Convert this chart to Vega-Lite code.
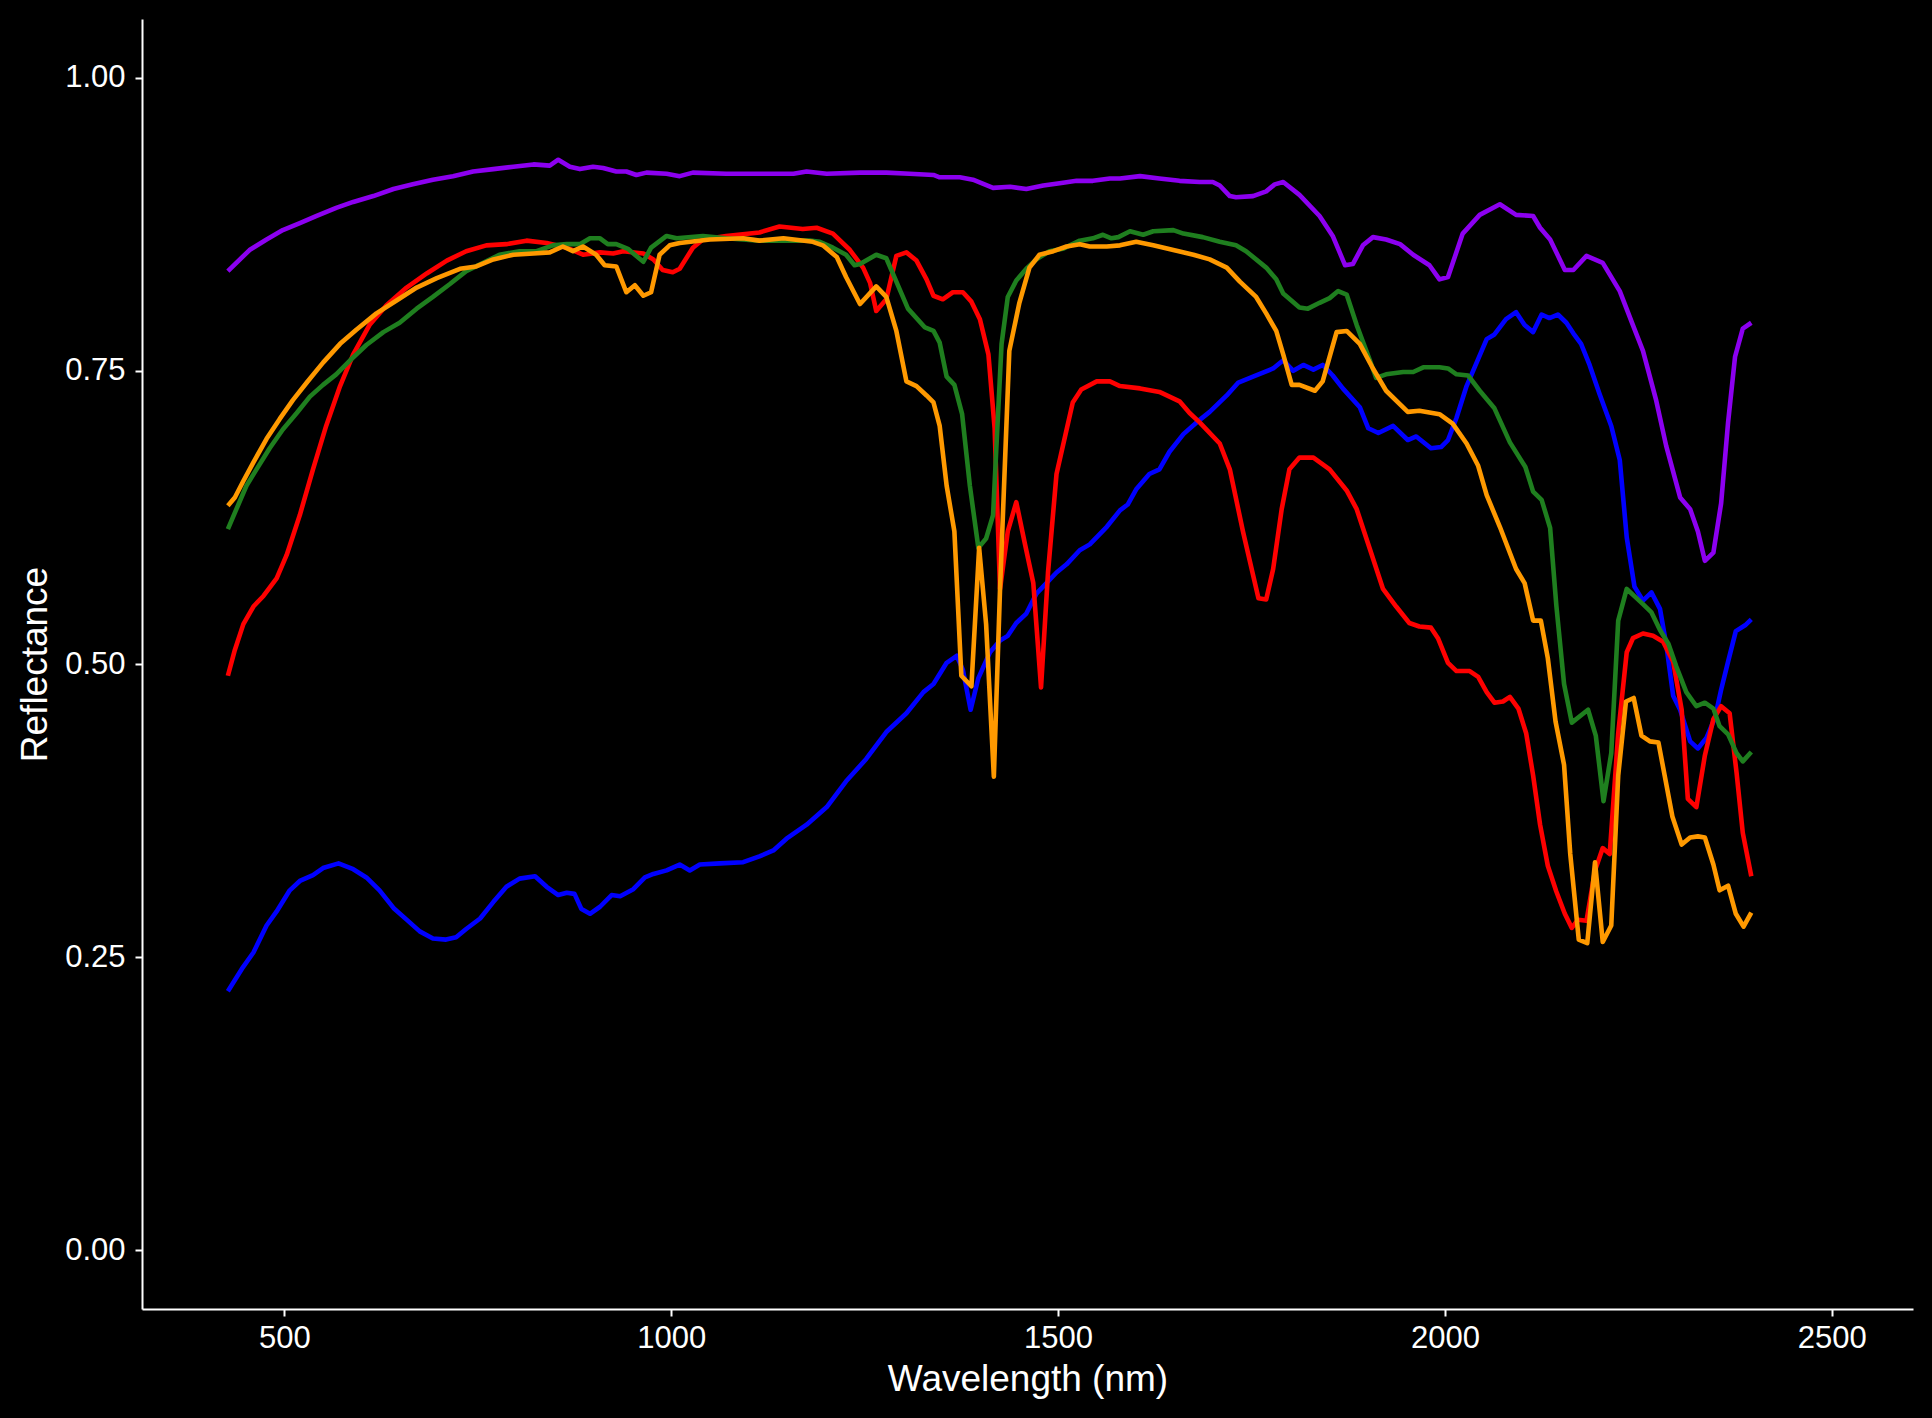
{
  "$schema": "https://vega.github.io/schema/vega-lite/v6.json",
  "width": 1771,
  "height": 1290,
  "autosize": {"type": "none"},
  "padding": {"left": 142, "top": 19, "right": 19, "bottom": 109},
  "background": "#000000",
  "config": {
    "view": {"stroke": null},
    "font": "Liberation Sans",
    "axis": {
      "grid": false,
      "domainColor": "#FFFFFF",
      "domainWidth": 2,
      "tickColor": "#FFFFFF",
      "tickWidth": 2,
      "tickSize": 7,
      "labelColor": "#FFFFFF",
      "labelFont": "Liberation Sans",
      "labelFontSize": 31,
      "titleColor": "#FFFFFF",
      "titleFont": "Liberation Sans",
      "titleFontSize": 37,
      "titleFontWeight": "normal"
    }
  },
  "data": {
    "values": [
      {"sample":"purple","nm":427,"reflectance":0.835},{"sample":"purple","nm":455,"reflectance":0.853},{"sample":"purple","nm":477,"reflectance":0.862},{"sample":"purple","nm":498,"reflectance":0.870},{"sample":"purple","nm":520,"reflectance":0.876},{"sample":"purple","nm":541,"reflectance":0.882},{"sample":"purple","nm":567,"reflectance":0.889},{"sample":"purple","nm":589,"reflectance":0.894},{"sample":"purple","nm":615,"reflectance":0.899},{"sample":"purple","nm":641,"reflectance":0.905},{"sample":"purple","nm":666,"reflectance":0.909},{"sample":"purple","nm":692,"reflectance":0.913},{"sample":"purple","nm":718,"reflectance":0.916},{"sample":"purple","nm":744,"reflectance":0.920},{"sample":"purple","nm":770,"reflectance":0.922},{"sample":"purple","nm":796,"reflectance":0.924},{"sample":"purple","nm":822,"reflectance":0.926},{"sample":"purple","nm":843,"reflectance":0.925},{"sample":"purple","nm":854,"reflectance":0.930},{"sample":"purple","nm":869,"reflectance":0.924},{"sample":"purple","nm":882,"reflectance":0.922},{"sample":"purple","nm":899,"reflectance":0.924},{"sample":"purple","nm":912,"reflectance":0.923},{"sample":"purple","nm":929,"reflectance":0.920},{"sample":"purple","nm":942,"reflectance":0.920},{"sample":"purple","nm":955,"reflectance":0.917},{"sample":"purple","nm":968,"reflectance":0.919},{"sample":"purple","nm":994,"reflectance":0.918},{"sample":"purple","nm":1011,"reflectance":0.916},{"sample":"purple","nm":1028,"reflectance":0.919},{"sample":"purple","nm":1071,"reflectance":0.918},{"sample":"purple","nm":1114,"reflectance":0.918},{"sample":"purple","nm":1158,"reflectance":0.918},{"sample":"purple","nm":1175,"reflectance":0.920},{"sample":"purple","nm":1201,"reflectance":0.918},{"sample":"purple","nm":1244,"reflectance":0.919},{"sample":"purple","nm":1278,"reflectance":0.919},{"sample":"purple","nm":1308,"reflectance":0.918},{"sample":"purple","nm":1339,"reflectance":0.917},{"sample":"purple","nm":1347,"reflectance":0.915},{"sample":"purple","nm":1373,"reflectance":0.915},{"sample":"purple","nm":1390,"reflectance":0.913},{"sample":"purple","nm":1416,"reflectance":0.906},{"sample":"purple","nm":1438,"reflectance":0.907},{"sample":"purple","nm":1459,"reflectance":0.905},{"sample":"purple","nm":1481,"reflectance":0.908},{"sample":"purple","nm":1502,"reflectance":0.910},{"sample":"purple","nm":1524,"reflectance":0.912},{"sample":"purple","nm":1545,"reflectance":0.912},{"sample":"purple","nm":1567,"reflectance":0.914},{"sample":"purple","nm":1580,"reflectance":0.914},{"sample":"purple","nm":1606,"reflectance":0.916},{"sample":"purple","nm":1631,"reflectance":0.914},{"sample":"purple","nm":1657,"reflectance":0.912},{"sample":"purple","nm":1683,"reflectance":0.911},{"sample":"purple","nm":1700,"reflectance":0.911},{"sample":"purple","nm":1709,"reflectance":0.908},{"sample":"purple","nm":1722,"reflectance":0.899},{"sample":"purple","nm":1730,"reflectance":0.898},{"sample":"purple","nm":1752,"reflectance":0.899},{"sample":"purple","nm":1769,"reflectance":0.903},{"sample":"purple","nm":1780,"reflectance":0.909},{"sample":"purple","nm":1791,"reflectance":0.911},{"sample":"purple","nm":1812,"reflectance":0.900},{"sample":"purple","nm":1838,"reflectance":0.882},{"sample":"purple","nm":1855,"reflectance":0.865},{"sample":"purple","nm":1871,"reflectance":0.840},{"sample":"purple","nm":1881,"reflectance":0.841},{"sample":"purple","nm":1894,"reflectance":0.857},{"sample":"purple","nm":1907,"reflectance":0.864},{"sample":"purple","nm":1924,"reflectance":0.862},{"sample":"purple","nm":1942,"reflectance":0.858},{"sample":"purple","nm":1959,"reflectance":0.849},{"sample":"purple","nm":1980,"reflectance":0.840},{"sample":"purple","nm":1993,"reflectance":0.828},{"sample":"purple","nm":2004,"reflectance":0.830},{"sample":"purple","nm":2023,"reflectance":0.867},{"sample":"purple","nm":2045,"reflectance":0.883},{"sample":"purple","nm":2071,"reflectance":0.892},{"sample":"purple","nm":2092,"reflectance":0.883},{"sample":"purple","nm":2114,"reflectance":0.882},{"sample":"purple","nm":2123,"reflectance":0.872},{"sample":"purple","nm":2136,"reflectance":0.862},{"sample":"purple","nm":2155,"reflectance":0.836},{"sample":"purple","nm":2166,"reflectance":0.836},{"sample":"purple","nm":2183,"reflectance":0.848},{"sample":"purple","nm":2204,"reflectance":0.842},{"sample":"purple","nm":2226,"reflectance":0.818},{"sample":"purple","nm":2243,"reflectance":0.789},{"sample":"purple","nm":2256,"reflectance":0.767},{"sample":"purple","nm":2273,"reflectance":0.725},{"sample":"purple","nm":2286,"reflectance":0.686},{"sample":"purple","nm":2304,"reflectance":0.642},{"sample":"purple","nm":2317,"reflectance":0.632},{"sample":"purple","nm":2327,"reflectance":0.613},{"sample":"purple","nm":2336,"reflectance":0.588},{"sample":"purple","nm":2347,"reflectance":0.595},{"sample":"purple","nm":2357,"reflectance":0.637},{"sample":"purple","nm":2366,"reflectance":0.706},{"sample":"purple","nm":2375,"reflectance":0.762},{"sample":"purple","nm":2385,"reflectance":0.786},{"sample":"purple","nm":2396,"reflectance":0.791},

      {"sample":"blue","nm":427,"reflectance":0.221},{"sample":"blue","nm":445,"reflectance":0.240},{"sample":"blue","nm":460,"reflectance":0.254},{"sample":"blue","nm":477,"reflectance":0.277},{"sample":"blue","nm":490,"reflectance":0.289},{"sample":"blue","nm":507,"reflectance":0.307},{"sample":"blue","nm":520,"reflectance":0.315},{"sample":"blue","nm":537,"reflectance":0.320},{"sample":"blue","nm":550,"reflectance":0.326},{"sample":"blue","nm":570,"reflectance":0.330},{"sample":"blue","nm":589,"reflectance":0.325},{"sample":"blue","nm":606,"reflectance":0.318},{"sample":"blue","nm":623,"reflectance":0.307},{"sample":"blue","nm":641,"reflectance":0.292},{"sample":"blue","nm":658,"reflectance":0.282},{"sample":"blue","nm":675,"reflectance":0.272},{"sample":"blue","nm":692,"reflectance":0.266},{"sample":"blue","nm":709,"reflectance":0.265},{"sample":"blue","nm":722,"reflectance":0.267},{"sample":"blue","nm":735,"reflectance":0.274},{"sample":"blue","nm":753,"reflectance":0.283},{"sample":"blue","nm":770,"reflectance":0.297},{"sample":"blue","nm":787,"reflectance":0.310},{"sample":"blue","nm":804,"reflectance":0.317},{"sample":"blue","nm":824,"reflectance":0.319},{"sample":"blue","nm":839,"reflectance":0.310},{"sample":"blue","nm":854,"reflectance":0.303},{"sample":"blue","nm":865,"reflectance":0.305},{"sample":"blue","nm":875,"reflectance":0.304},{"sample":"blue","nm":884,"reflectance":0.291},{"sample":"blue","nm":895,"reflectance":0.287},{"sample":"blue","nm":908,"reflectance":0.293},{"sample":"blue","nm":923,"reflectance":0.303},{"sample":"blue","nm":934,"reflectance":0.302},{"sample":"blue","nm":951,"reflectance":0.308},{"sample":"blue","nm":966,"reflectance":0.318},{"sample":"blue","nm":977,"reflectance":0.321},{"sample":"blue","nm":994,"reflectance":0.324},{"sample":"blue","nm":1011,"reflectance":0.329},{"sample":"blue","nm":1024,"reflectance":0.324},{"sample":"blue","nm":1037,"reflectance":0.329},{"sample":"blue","nm":1063,"reflectance":0.330},{"sample":"blue","nm":1093,"reflectance":0.331},{"sample":"blue","nm":1114,"reflectance":0.336},{"sample":"blue","nm":1132,"reflectance":0.341},{"sample":"blue","nm":1149,"reflectance":0.351},{"sample":"blue","nm":1175,"reflectance":0.363},{"sample":"blue","nm":1201,"reflectance":0.378},{"sample":"blue","nm":1226,"reflectance":0.400},{"sample":"blue","nm":1252,"reflectance":0.419},{"sample":"blue","nm":1278,"reflectance":0.442},{"sample":"blue","nm":1304,"reflectance":0.458},{"sample":"blue","nm":1326,"reflectance":0.476},{"sample":"blue","nm":1339,"reflectance":0.483},{"sample":"blue","nm":1356,"reflectance":0.501},{"sample":"blue","nm":1369,"reflectance":0.507},{"sample":"blue","nm":1377,"reflectance":0.495},{"sample":"blue","nm":1387,"reflectance":0.461},{"sample":"blue","nm":1397,"reflectance":0.488},{"sample":"blue","nm":1412,"reflectance":0.510},{"sample":"blue","nm":1425,"reflectance":0.520},{"sample":"blue","nm":1435,"reflectance":0.524},{"sample":"blue","nm":1446,"reflectance":0.535},{"sample":"blue","nm":1459,"reflectance":0.543},{"sample":"blue","nm":1472,"reflectance":0.560},{"sample":"blue","nm":1485,"reflectance":0.569},{"sample":"blue","nm":1498,"reflectance":0.578},{"sample":"blue","nm":1511,"reflectance":0.585},{"sample":"blue","nm":1528,"reflectance":0.597},{"sample":"blue","nm":1541,"reflectance":0.602},{"sample":"blue","nm":1563,"reflectance":0.617},{"sample":"blue","nm":1580,"reflectance":0.631},{"sample":"blue","nm":1590,"reflectance":0.636},{"sample":"blue","nm":1601,"reflectance":0.649},{"sample":"blue","nm":1618,"reflectance":0.662},{"sample":"blue","nm":1631,"reflectance":0.666},{"sample":"blue","nm":1644,"reflectance":0.681},{"sample":"blue","nm":1662,"reflectance":0.696},{"sample":"blue","nm":1679,"reflectance":0.706},{"sample":"blue","nm":1696,"reflectance":0.715},{"sample":"blue","nm":1718,"reflectance":0.729},{"sample":"blue","nm":1733,"reflectance":0.740},{"sample":"blue","nm":1752,"reflectance":0.745},{"sample":"blue","nm":1778,"reflectance":0.752},{"sample":"blue","nm":1791,"reflectance":0.759},{"sample":"blue","nm":1804,"reflectance":0.750},{"sample":"blue","nm":1817,"reflectance":0.755},{"sample":"blue","nm":1830,"reflectance":0.751},{"sample":"blue","nm":1842,"reflectance":0.755},{"sample":"blue","nm":1855,"reflectance":0.746},{"sample":"blue","nm":1868,"reflectance":0.735},{"sample":"blue","nm":1890,"reflectance":0.719},{"sample":"blue","nm":1901,"reflectance":0.701},{"sample":"blue","nm":1914,"reflectance":0.697},{"sample":"blue","nm":1933,"reflectance":0.703},{"sample":"blue","nm":1952,"reflectance":0.691},{"sample":"blue","nm":1963,"reflectance":0.694},{"sample":"blue","nm":1982,"reflectance":0.684},{"sample":"blue","nm":1995,"reflectance":0.685},{"sample":"blue","nm":2004,"reflectance":0.691},{"sample":"blue","nm":2015,"reflectance":0.710},{"sample":"blue","nm":2028,"reflectance":0.737},{"sample":"blue","nm":2041,"reflectance":0.757},{"sample":"blue","nm":2054,"reflectance":0.777},{"sample":"blue","nm":2064,"reflectance":0.781},{"sample":"blue","nm":2079,"reflectance":0.794},{"sample":"blue","nm":2092,"reflectance":0.800},{"sample":"blue","nm":2103,"reflectance":0.789},{"sample":"blue","nm":2114,"reflectance":0.783},{"sample":"blue","nm":2125,"reflectance":0.798},{"sample":"blue","nm":2135,"reflectance":0.795},{"sample":"blue","nm":2146,"reflectance":0.798},{"sample":"blue","nm":2157,"reflectance":0.791},{"sample":"blue","nm":2166,"reflectance":0.782},{"sample":"blue","nm":2176,"reflectance":0.773},{"sample":"blue","nm":2187,"reflectance":0.755},{"sample":"blue","nm":2200,"reflectance":0.730},{"sample":"blue","nm":2215,"reflectance":0.703},{"sample":"blue","nm":2226,"reflectance":0.674},{"sample":"blue","nm":2235,"reflectance":0.608},{"sample":"blue","nm":2245,"reflectance":0.566},{"sample":"blue","nm":2256,"reflectance":0.554},{"sample":"blue","nm":2267,"reflectance":0.561},{"sample":"blue","nm":2278,"reflectance":0.547},{"sample":"blue","nm":2286,"reflectance":0.517},{"sample":"blue","nm":2295,"reflectance":0.473},{"sample":"blue","nm":2304,"reflectance":0.461},{"sample":"blue","nm":2317,"reflectance":0.434},{"sample":"blue","nm":2327,"reflectance":0.428},{"sample":"blue","nm":2338,"reflectance":0.437},{"sample":"blue","nm":2349,"reflectance":0.454},{"sample":"blue","nm":2357,"reflectance":0.478},{"sample":"blue","nm":2366,"reflectance":0.502},{"sample":"blue","nm":2376,"reflectance":0.528},{"sample":"blue","nm":2388,"reflectance":0.533},{"sample":"blue","nm":2396,"reflectance":0.538},

      {"sample":"red","nm":427,"reflectance":0.490},{"sample":"red","nm":436,"reflectance":0.512},{"sample":"red","nm":447,"reflectance":0.534},{"sample":"red","nm":460,"reflectance":0.549},{"sample":"red","nm":473,"reflectance":0.558},{"sample":"red","nm":490,"reflectance":0.573},{"sample":"red","nm":503,"reflectance":0.593},{"sample":"red","nm":520,"reflectance":0.627},{"sample":"red","nm":537,"reflectance":0.666},{"sample":"red","nm":554,"reflectance":0.703},{"sample":"red","nm":572,"reflectance":0.737},{"sample":"red","nm":589,"reflectance":0.764},{"sample":"red","nm":610,"reflectance":0.789},{"sample":"red","nm":632,"reflectance":0.806},{"sample":"red","nm":658,"reflectance":0.821},{"sample":"red","nm":684,"reflectance":0.833},{"sample":"red","nm":710,"reflectance":0.844},{"sample":"red","nm":735,"reflectance":0.852},{"sample":"red","nm":761,"reflectance":0.857},{"sample":"red","nm":787,"reflectance":0.858},{"sample":"red","nm":813,"reflectance":0.861},{"sample":"red","nm":839,"reflectance":0.859},{"sample":"red","nm":865,"reflectance":0.855},{"sample":"red","nm":886,"reflectance":0.849},{"sample":"red","nm":908,"reflectance":0.851},{"sample":"red","nm":925,"reflectance":0.850},{"sample":"red","nm":938,"reflectance":0.852},{"sample":"red","nm":964,"reflectance":0.850},{"sample":"red","nm":977,"reflectance":0.845},{"sample":"red","nm":989,"reflectance":0.836},{"sample":"red","nm":1002,"reflectance":0.834},{"sample":"red","nm":1011,"reflectance":0.837},{"sample":"red","nm":1028,"reflectance":0.855},{"sample":"red","nm":1041,"reflectance":0.862},{"sample":"red","nm":1071,"reflectance":0.865},{"sample":"red","nm":1114,"reflectance":0.868},{"sample":"red","nm":1140,"reflectance":0.873},{"sample":"red","nm":1170,"reflectance":0.871},{"sample":"red","nm":1188,"reflectance":0.872},{"sample":"red","nm":1209,"reflectance":0.867},{"sample":"red","nm":1231,"reflectance":0.853},{"sample":"red","nm":1248,"reflectance":0.838},{"sample":"red","nm":1257,"reflectance":0.825},{"sample":"red","nm":1265,"reflectance":0.801},{"sample":"red","nm":1278,"reflectance":0.811},{"sample":"red","nm":1291,"reflectance":0.848},{"sample":"red","nm":1304,"reflectance":0.851},{"sample":"red","nm":1317,"reflectance":0.844},{"sample":"red","nm":1330,"reflectance":0.828},{"sample":"red","nm":1339,"reflectance":0.814},{"sample":"red","nm":1351,"reflectance":0.811},{"sample":"red","nm":1364,"reflectance":0.817},{"sample":"red","nm":1377,"reflectance":0.817},{"sample":"red","nm":1388,"reflectance":0.809},{"sample":"red","nm":1399,"reflectance":0.794},{"sample":"red","nm":1410,"reflectance":0.764},{"sample":"red","nm":1418,"reflectance":0.701},{"sample":"red","nm":1425,"reflectance":0.564},{"sample":"red","nm":1435,"reflectance":0.613},{"sample":"red","nm":1446,"reflectance":0.638},{"sample":"red","nm":1457,"reflectance":0.603},{"sample":"red","nm":1468,"reflectance":0.569},{"sample":"red","nm":1478,"reflectance":0.480},{"sample":"red","nm":1487,"reflectance":0.578},{"sample":"red","nm":1498,"reflectance":0.662},{"sample":"red","nm":1519,"reflectance":0.723},{"sample":"red","nm":1530,"reflectance":0.734},{"sample":"red","nm":1550,"reflectance":0.741},{"sample":"red","nm":1567,"reflectance":0.741},{"sample":"red","nm":1580,"reflectance":0.737},{"sample":"red","nm":1606,"reflectance":0.735},{"sample":"red","nm":1631,"reflectance":0.732},{"sample":"red","nm":1657,"reflectance":0.724},{"sample":"red","nm":1670,"reflectance":0.714},{"sample":"red","nm":1683,"reflectance":0.706},{"sample":"red","nm":1709,"reflectance":0.688},{"sample":"red","nm":1722,"reflectance":0.666},{"sample":"red","nm":1739,"reflectance":0.613},{"sample":"red","nm":1759,"reflectance":0.556},{"sample":"red","nm":1769,"reflectance":0.555},{"sample":"red","nm":1778,"reflectance":0.581},{"sample":"red","nm":1789,"reflectance":0.632},{"sample":"red","nm":1799,"reflectance":0.666},{"sample":"red","nm":1812,"reflectance":0.676},{"sample":"red","nm":1830,"reflectance":0.676},{"sample":"red","nm":1851,"reflectance":0.666},{"sample":"red","nm":1873,"reflectance":0.648},{"sample":"red","nm":1886,"reflectance":0.632},{"sample":"red","nm":1903,"reflectance":0.598},{"sample":"red","nm":1920,"reflectance":0.564},{"sample":"red","nm":1937,"reflectance":0.549},{"sample":"red","nm":1954,"reflectance":0.535},{"sample":"red","nm":1967,"reflectance":0.532},{"sample":"red","nm":1982,"reflectance":0.531},{"sample":"red","nm":1991,"reflectance":0.522},{"sample":"red","nm":2004,"reflectance":0.501},{"sample":"red","nm":2015,"reflectance":0.494},{"sample":"red","nm":2032,"reflectance":0.494},{"sample":"red","nm":2043,"reflectance":0.489},{"sample":"red","nm":2054,"reflectance":0.476},{"sample":"red","nm":2064,"reflectance":0.467},{"sample":"red","nm":2075,"reflectance":0.468},{"sample":"red","nm":2084,"reflectance":0.472},{"sample":"red","nm":2095,"reflectance":0.462},{"sample":"red","nm":2105,"reflectance":0.441},{"sample":"red","nm":2114,"reflectance":0.405},{"sample":"red","nm":2123,"reflectance":0.363},{"sample":"red","nm":2133,"reflectance":0.328},{"sample":"red","nm":2144,"reflectance":0.306},{"sample":"red","nm":2155,"reflectance":0.287},{"sample":"red","nm":2164,"reflectance":0.275},{"sample":"red","nm":2172,"reflectance":0.282},{"sample":"red","nm":2183,"reflectance":0.281},{"sample":"red","nm":2194,"reflectance":0.324},{"sample":"red","nm":2204,"reflectance":0.343},{"sample":"red","nm":2213,"reflectance":0.338},{"sample":"red","nm":2224,"reflectance":0.441},{"sample":"red","nm":2235,"reflectance":0.510},{"sample":"red","nm":2243,"reflectance":0.522},{"sample":"red","nm":2256,"reflectance":0.526},{"sample":"red","nm":2269,"reflectance":0.524},{"sample":"red","nm":2282,"reflectance":0.519},{"sample":"red","nm":2295,"reflectance":0.502},{"sample":"red","nm":2306,"reflectance":0.461},{"sample":"red","nm":2314,"reflectance":0.385},{"sample":"red","nm":2325,"reflectance":0.378},{"sample":"red","nm":2336,"reflectance":0.422},{"sample":"red","nm":2347,"reflectance":0.453},{"sample":"red","nm":2357,"reflectance":0.464},{"sample":"red","nm":2368,"reflectance":0.458},{"sample":"red","nm":2377,"reflectance":0.407},{"sample":"red","nm":2385,"reflectance":0.356},{"sample":"red","nm":2396,"reflectance":0.319},

      {"sample":"green","nm":427,"reflectance":0.615},{"sample":"green","nm":438,"reflectance":0.632},{"sample":"green","nm":451,"reflectance":0.652},{"sample":"green","nm":464,"reflectance":0.666},{"sample":"green","nm":481,"reflectance":0.684},{"sample":"green","nm":498,"reflectance":0.700},{"sample":"green","nm":516,"reflectance":0.714},{"sample":"green","nm":533,"reflectance":0.728},{"sample":"green","nm":550,"reflectance":0.738},{"sample":"green","nm":567,"reflectance":0.747},{"sample":"green","nm":585,"reflectance":0.759},{"sample":"green","nm":606,"reflectance":0.772},{"sample":"green","nm":628,"reflectance":0.783},{"sample":"green","nm":649,"reflectance":0.791},{"sample":"green","nm":671,"reflectance":0.803},{"sample":"green","nm":692,"reflectance":0.813},{"sample":"green","nm":714,"reflectance":0.824},{"sample":"green","nm":735,"reflectance":0.835},{"sample":"green","nm":757,"reflectance":0.842},{"sample":"green","nm":778,"reflectance":0.849},{"sample":"green","nm":804,"reflectance":0.852},{"sample":"green","nm":826,"reflectance":0.852},{"sample":"green","nm":847,"reflectance":0.857},{"sample":"green","nm":865,"reflectance":0.858},{"sample":"green","nm":882,"reflectance":0.858},{"sample":"green","nm":895,"reflectance":0.863},{"sample":"green","nm":908,"reflectance":0.863},{"sample":"green","nm":918,"reflectance":0.858},{"sample":"green","nm":929,"reflectance":0.858},{"sample":"green","nm":944,"reflectance":0.854},{"sample":"green","nm":953,"reflectance":0.849},{"sample":"green","nm":964,"reflectance":0.843},{"sample":"green","nm":974,"reflectance":0.855},{"sample":"green","nm":994,"reflectance":0.865},{"sample":"green","nm":1007,"reflectance":0.863},{"sample":"green","nm":1041,"reflectance":0.865},{"sample":"green","nm":1071,"reflectance":0.863},{"sample":"green","nm":1114,"reflectance":0.861},{"sample":"green","nm":1136,"reflectance":0.861},{"sample":"green","nm":1179,"reflectance":0.861},{"sample":"green","nm":1192,"reflectance":0.860},{"sample":"green","nm":1209,"reflectance":0.855},{"sample":"green","nm":1226,"reflectance":0.849},{"sample":"green","nm":1237,"reflectance":0.840},{"sample":"green","nm":1244,"reflectance":0.841},{"sample":"green","nm":1265,"reflectance":0.849},{"sample":"green","nm":1278,"reflectance":0.846},{"sample":"green","nm":1291,"reflectance":0.826},{"sample":"green","nm":1306,"reflectance":0.803},{"sample":"green","nm":1328,"reflectance":0.787},{"sample":"green","nm":1339,"reflectance":0.784},{"sample":"green","nm":1347,"reflectance":0.774},{"sample":"green","nm":1356,"reflectance":0.745},{"sample":"green","nm":1366,"reflectance":0.738},{"sample":"green","nm":1376,"reflectance":0.713},{"sample":"green","nm":1386,"reflectance":0.652},{"sample":"green","nm":1397,"reflectance":0.599},{"sample":"green","nm":1407,"reflectance":0.607},{"sample":"green","nm":1416,"reflectance":0.627},{"sample":"green","nm":1420,"reflectance":0.681},{"sample":"green","nm":1427,"reflectance":0.773},{"sample":"green","nm":1435,"reflectance":0.813},{"sample":"green","nm":1446,"reflectance":0.827},{"sample":"green","nm":1459,"reflectance":0.837},{"sample":"green","nm":1472,"reflectance":0.845},{"sample":"green","nm":1489,"reflectance":0.852},{"sample":"green","nm":1506,"reflectance":0.854},{"sample":"green","nm":1528,"reflectance":0.861},{"sample":"green","nm":1545,"reflectance":0.863},{"sample":"green","nm":1558,"reflectance":0.866},{"sample":"green","nm":1569,"reflectance":0.863},{"sample":"green","nm":1578,"reflectance":0.864},{"sample":"green","nm":1593,"reflectance":0.869},{"sample":"green","nm":1610,"reflectance":0.866},{"sample":"green","nm":1623,"reflectance":0.869},{"sample":"green","nm":1649,"reflectance":0.870},{"sample":"green","nm":1662,"reflectance":0.867},{"sample":"green","nm":1687,"reflectance":0.864},{"sample":"green","nm":1709,"reflectance":0.860},{"sample":"green","nm":1730,"reflectance":0.857},{"sample":"green","nm":1743,"reflectance":0.852},{"sample":"green","nm":1769,"reflectance":0.838},{"sample":"green","nm":1782,"reflectance":0.828},{"sample":"green","nm":1791,"reflectance":0.816},{"sample":"green","nm":1812,"reflectance":0.804},{"sample":"green","nm":1823,"reflectance":0.803},{"sample":"green","nm":1838,"reflectance":0.808},{"sample":"green","nm":1851,"reflectance":0.812},{"sample":"green","nm":1862,"reflectance":0.818},{"sample":"green","nm":1873,"reflectance":0.815},{"sample":"green","nm":1886,"reflectance":0.789},{"sample":"green","nm":1903,"reflectance":0.759},{"sample":"green","nm":1911,"reflectance":0.744},{"sample":"green","nm":1924,"reflectance":0.747},{"sample":"green","nm":1946,"reflectance":0.749},{"sample":"green","nm":1959,"reflectance":0.749},{"sample":"green","nm":1972,"reflectance":0.753},{"sample":"green","nm":1993,"reflectance":0.753},{"sample":"green","nm":2004,"reflectance":0.752},{"sample":"green","nm":2015,"reflectance":0.747},{"sample":"green","nm":2030,"reflectance":0.746},{"sample":"green","nm":2045,"reflectance":0.733},{"sample":"green","nm":2064,"reflectance":0.718},{"sample":"green","nm":2084,"reflectance":0.689},{"sample":"green","nm":2104,"reflectance":0.668},{"sample":"green","nm":2114,"reflectance":0.647},{"sample":"green","nm":2125,"reflectance":0.640},{"sample":"green","nm":2136,"reflectance":0.616},{"sample":"green","nm":2144,"reflectance":0.550},{"sample":"green","nm":2154,"reflectance":0.483},{"sample":"green","nm":2164,"reflectance":0.450},{"sample":"green","nm":2185,"reflectance":0.461},{"sample":"green","nm":2195,"reflectance":0.439},{"sample":"green","nm":2205,"reflectance":0.383},{"sample":"green","nm":2215,"reflectance":0.424},{"sample":"green","nm":2224,"reflectance":0.537},{"sample":"green","nm":2235,"reflectance":0.564},{"sample":"green","nm":2248,"reflectance":0.556},{"sample":"green","nm":2256,"reflectance":0.551},{"sample":"green","nm":2267,"reflectance":0.544},{"sample":"green","nm":2278,"reflectance":0.529},{"sample":"green","nm":2289,"reflectance":0.517},{"sample":"green","nm":2299,"reflectance":0.498},{"sample":"green","nm":2312,"reflectance":0.476},{"sample":"green","nm":2325,"reflectance":0.464},{"sample":"green","nm":2336,"reflectance":0.467},{"sample":"green","nm":2347,"reflectance":0.462},{"sample":"green","nm":2355,"reflectance":0.447},{"sample":"green","nm":2366,"reflectance":0.440},{"sample":"green","nm":2377,"reflectance":0.424},{"sample":"green","nm":2385,"reflectance":0.417},{"sample":"green","nm":2396,"reflectance":0.425},

      {"sample":"orange","nm":427,"reflectance":0.635},{"sample":"orange","nm":436,"reflectance":0.642},{"sample":"orange","nm":447,"reflectance":0.656},{"sample":"orange","nm":460,"reflectance":0.672},{"sample":"orange","nm":477,"reflectance":0.692},{"sample":"orange","nm":494,"reflectance":0.709},{"sample":"orange","nm":511,"reflectance":0.725},{"sample":"orange","nm":529,"reflectance":0.740},{"sample":"orange","nm":550,"reflectance":0.757},{"sample":"orange","nm":572,"reflectance":0.773},{"sample":"orange","nm":593,"reflectance":0.785},{"sample":"orange","nm":619,"reflectance":0.799},{"sample":"orange","nm":645,"reflectance":0.810},{"sample":"orange","nm":671,"reflectance":0.821},{"sample":"orange","nm":697,"reflectance":0.829},{"sample":"orange","nm":727,"reflectance":0.837},{"sample":"orange","nm":748,"reflectance":0.839},{"sample":"orange","nm":770,"reflectance":0.845},{"sample":"orange","nm":796,"reflectance":0.849},{"sample":"orange","nm":822,"reflectance":0.850},{"sample":"orange","nm":843,"reflectance":0.851},{"sample":"orange","nm":860,"reflectance":0.856},{"sample":"orange","nm":873,"reflectance":0.852},{"sample":"orange","nm":886,"reflectance":0.856},{"sample":"orange","nm":903,"reflectance":0.849},{"sample":"orange","nm":914,"reflectance":0.840},{"sample":"orange","nm":929,"reflectance":0.839},{"sample":"orange","nm":942,"reflectance":0.817},{"sample":"orange","nm":953,"reflectance":0.823},{"sample":"orange","nm":964,"reflectance":0.814},{"sample":"orange","nm":974,"reflectance":0.817},{"sample":"orange","nm":985,"reflectance":0.849},{"sample":"orange","nm":998,"reflectance":0.857},{"sample":"orange","nm":1011,"reflectance":0.859},{"sample":"orange","nm":1050,"reflectance":0.862},{"sample":"orange","nm":1093,"reflectance":0.863},{"sample":"orange","nm":1114,"reflectance":0.861},{"sample":"orange","nm":1145,"reflectance":0.863},{"sample":"orange","nm":1183,"reflectance":0.860},{"sample":"orange","nm":1196,"reflectance":0.857},{"sample":"orange","nm":1214,"reflectance":0.847},{"sample":"orange","nm":1226,"reflectance":0.830},{"sample":"orange","nm":1244,"reflectance":0.807},{"sample":"orange","nm":1265,"reflectance":0.822},{"sample":"orange","nm":1278,"reflectance":0.813},{"sample":"orange","nm":1291,"reflectance":0.784},{"sample":"orange","nm":1304,"reflectance":0.741},{"sample":"orange","nm":1317,"reflectance":0.737},{"sample":"orange","nm":1330,"reflectance":0.729},{"sample":"orange","nm":1339,"reflectance":0.723},{"sample":"orange","nm":1347,"reflectance":0.703},{"sample":"orange","nm":1356,"reflectance":0.652},{"sample":"orange","nm":1366,"reflectance":0.613},{"sample":"orange","nm":1375,"reflectance":0.490},{"sample":"orange","nm":1388,"reflectance":0.481},{"sample":"orange","nm":1398,"reflectance":0.599},{"sample":"orange","nm":1407,"reflectance":0.534},{"sample":"orange","nm":1417,"reflectance":0.404},{"sample":"orange","nm":1425,"reflectance":0.564},{"sample":"orange","nm":1437,"reflectance":0.767},{"sample":"orange","nm":1450,"reflectance":0.808},{"sample":"orange","nm":1463,"reflectance":0.838},{"sample":"orange","nm":1476,"reflectance":0.849},{"sample":"orange","nm":1494,"reflectance":0.852},{"sample":"orange","nm":1511,"reflectance":0.856},{"sample":"orange","nm":1528,"reflectance":0.858},{"sample":"orange","nm":1541,"reflectance":0.856},{"sample":"orange","nm":1563,"reflectance":0.856},{"sample":"orange","nm":1580,"reflectance":0.857},{"sample":"orange","nm":1601,"reflectance":0.860},{"sample":"orange","nm":1623,"reflectance":0.857},{"sample":"orange","nm":1649,"reflectance":0.853},{"sample":"orange","nm":1675,"reflectance":0.849},{"sample":"orange","nm":1696,"reflectance":0.845},{"sample":"orange","nm":1718,"reflectance":0.838},{"sample":"orange","nm":1735,"reflectance":0.826},{"sample":"orange","nm":1756,"reflectance":0.813},{"sample":"orange","nm":1769,"reflectance":0.799},{"sample":"orange","nm":1782,"reflectance":0.784},{"sample":"orange","nm":1791,"reflectance":0.764},{"sample":"orange","nm":1802,"reflectance":0.738},{"sample":"orange","nm":1812,"reflectance":0.738},{"sample":"orange","nm":1832,"reflectance":0.733},{"sample":"orange","nm":1842,"reflectance":0.741},{"sample":"orange","nm":1860,"reflectance":0.783},{"sample":"orange","nm":1873,"reflectance":0.784},{"sample":"orange","nm":1890,"reflectance":0.773},{"sample":"orange","nm":1907,"reflectance":0.752},{"sample":"orange","nm":1924,"reflectance":0.733},{"sample":"orange","nm":1952,"reflectance":0.715},{"sample":"orange","nm":1967,"reflectance":0.716},{"sample":"orange","nm":1993,"reflectance":0.713},{"sample":"orange","nm":2010,"reflectance":0.705},{"sample":"orange","nm":2028,"reflectance":0.688},{"sample":"orange","nm":2043,"reflectance":0.669},{"sample":"orange","nm":2054,"reflectance":0.644},{"sample":"orange","nm":2071,"reflectance":0.617},{"sample":"orange","nm":2092,"reflectance":0.581},{"sample":"orange","nm":2103,"reflectance":0.569},{"sample":"orange","nm":2114,"reflectance":0.537},{"sample":"orange","nm":2124,"reflectance":0.537},{"sample":"orange","nm":2133,"reflectance":0.505},{"sample":"orange","nm":2143,"reflectance":0.451},{"sample":"orange","nm":2154,"reflectance":0.414},{"sample":"orange","nm":2162,"reflectance":0.338},{"sample":"orange","nm":2173,"reflectance":0.265},{"sample":"orange","nm":2184,"reflectance":0.262},{"sample":"orange","nm":2194,"reflectance":0.331},{"sample":"orange","nm":2204,"reflectance":0.263},{"sample":"orange","nm":2215,"reflectance":0.277},{"sample":"orange","nm":2224,"reflectance":0.405},{"sample":"orange","nm":2234,"reflectance":0.468},{"sample":"orange","nm":2244,"reflectance":0.471},{"sample":"orange","nm":2254,"reflectance":0.439},{"sample":"orange","nm":2265,"reflectance":0.434},{"sample":"orange","nm":2276,"reflectance":0.433},{"sample":"orange","nm":2284,"reflectance":0.405},{"sample":"orange","nm":2294,"reflectance":0.370},{"sample":"orange","nm":2306,"reflectance":0.346},{"sample":"orange","nm":2317,"reflectance":0.352},{"sample":"orange","nm":2327,"reflectance":0.353},{"sample":"orange","nm":2336,"reflectance":0.352},{"sample":"orange","nm":2347,"reflectance":0.329},{"sample":"orange","nm":2355,"reflectance":0.307},{"sample":"orange","nm":2366,"reflectance":0.311},{"sample":"orange","nm":2376,"reflectance":0.287},{"sample":"orange","nm":2386,"reflectance":0.276},{"sample":"orange","nm":2396,"reflectance":0.288}
    ]
  },
  "mark": {"type": "line", "strokeWidth": 4.6, "strokeJoin": "round", "strokeCap": "butt", "clip": true},
  "encoding": {
    "x": {
      "field": "nm",
      "type": "quantitative",
      "title": "Wavelength (nm)",
      "scale": {"domain": [316, 2605], "nice": false, "zero": false},
      "axis": {"values": [500, 1000, 1500, 2000, 2500], "format": "d", "labelPadding": 7, "titlePadding": 8, "labelFlush": false}
    },
    "y": {
      "field": "reflectance",
      "type": "quantitative",
      "title": "Reflectance",
      "scale": {"domain": [-0.05, 1.05], "nice": false, "zero": false},
      "axis": {"values": [0, 0.25, 0.5, 0.75, 1], "format": ".2f", "labelPadding": 10, "titlePadding": 10, "labelFlush": false}
    },
    "color": {
      "field": "sample",
      "type": "nominal",
      "scale": {"domain": ["purple", "blue", "red", "green", "orange"], "range": ["#8C00F0", "#0000FF", "#FF0000", "#1F7F1F", "#FF9900"]},
      "legend": null
    },
    "order": {"value": 0}
  }
}
